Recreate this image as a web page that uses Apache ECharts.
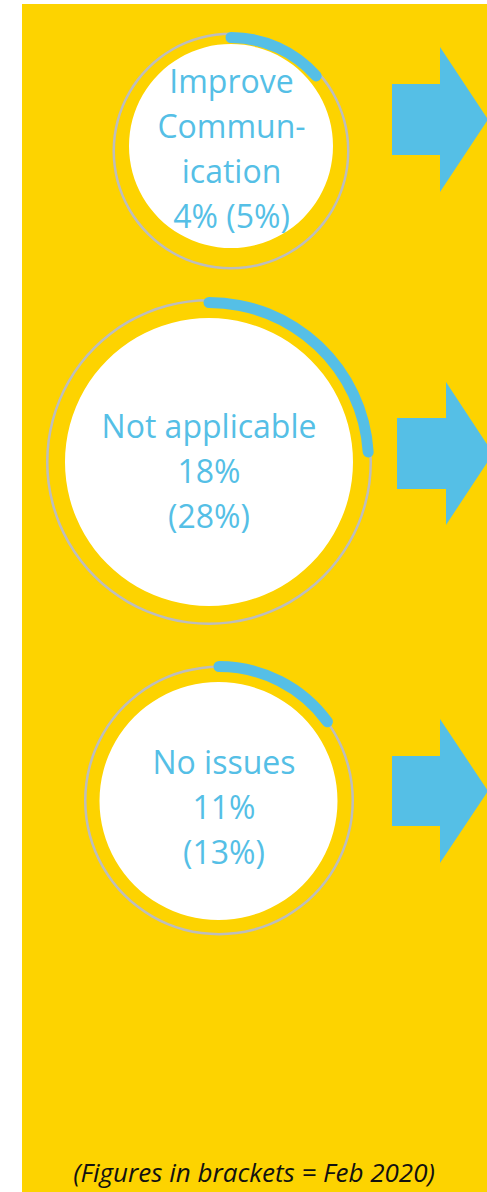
<!DOCTYPE html>
<html>
<head>
<meta charset="utf-8">
<style>
  html, body { margin: 0; padding: 0; background: #ffffff; }
  #main { width: 487px; height: 1192px; }
</style>
<script src="https://cdn.jsdelivr.net/npm/echarts@6/dist/echarts.min.js"></script>
</head>
<body>
<div id="main"></div>
<script>
// Reasons, current share and Feb 2020 share (in brackets)
const reasons = ['Improve\nCommun-\nication', 'Not applicable', 'No issues'];
const current = [4, 18, 11];
const feb2020 = [5, 28, 13];
// how much of each ring the blue arc covers, in percent
const arcShare = [13.5, 24, 15];
const footnote = '(Figures in brackets = Feb 2020)';

// layout of each circle (pixels)
const layout = [
    { cx: 231, cy: 151, ring: 118, arc: 119, disk: [231, 146, 102], text: [0.5, -3], sep: ' ' },
    { cx: 209, cy: 462, ring: 162.5, arc: 165, disk: [209, 462, 144], text: [0, 8], sep: '\n' },
    { cx: 219, cy: 800.5, ring: 134.5, arc: 139.5, disk: [218.5, 801, 119], text: [5, 6], sep: '\n' }
];
const arrows = [
    { x0: 392, x1: 440, tip: 488, cy: 119.5, body: 35.5, head: 72.5 },
    { x0: 397, x1: 446, tip: 493, cy: 453.5, body: 35.5, head: 71.5 },
    { x0: 392, x1: 440, tip: 488, cy: 791, body: 35, head: 72 }
];

const YELLOW = '#FDD300';
const BLUE = '#55BFE6';
const GREY = '#BDBDBD';

var myChart = echarts.init(document.getElementById('main'), null, { renderer: 'svg' });

var series = [];
reasons.forEach(function (name, i) {
    var l = layout[i];
    // white disk
    series.push({
        type: 'pie',
        silent: true,
        z: 1,
        center: [l.disk[0], l.disk[1]],
        radius: [0, l.disk[2]],
        label: { show: false },
        labelLine: { show: false },
        itemStyle: { color: '#ffffff' },
        data: [{ value: 1, name: name }]
    });
    // thin grey ring
    series.push({
        type: 'gauge',
        silent: true,
        z: 3,
        center: [l.cx, l.cy],
        radius: l.ring + 0.5,
        startAngle: 90,
        endAngle: -270,
        axisLine: { lineStyle: { width: 2.5, color: [[1, GREY]] } },
        pointer: { show: false },
        axisTick: { show: false },
        splitLine: { show: false },
        axisLabel: { show: false },
        title: { show: false },
        detail: { show: false },
        data: [{ value: 0 }]
    });
    // blue arc + label
    series.push({
        type: 'gauge',
        silent: true,
        z: 5,
        center: [l.cx, l.cy],
        radius: l.arc,
        startAngle: 90,
        endAngle: -270,
        min: 0,
        max: 100,
        axisLine: { lineStyle: { width: 11, color: [[1, 'rgba(0,0,0,0)']] } },
        progress: { show: true, width: 11, roundCap: true, itemStyle: { color: BLUE } },
        pointer: { show: false },
        axisTick: { show: false },
        splitLine: { show: false },
        axisLabel: { show: false },
        title: { show: false },
        detail: {
            show: true,
            valueAnimation: false,
            offsetCenter: l.text,
            color: BLUE,
            fontFamily: 'Open Sans',
            fontSize: 32,
            lineHeight: 45,
            fontWeight: 'normal',
            formatter: function () {
                return name + '\n' + current[i] + '%' + l.sep + '(' + feb2020[i] + '%)';
            }
        },
        data: [{ value: arcShare[i] }]
    });
});

var graphics = [
    { type: 'rect', z: -10, shape: { x: 22, y: 4, width: 465, height: 1188 }, style: { fill: YELLOW } }
];
arrows.forEach(function (a) {
    graphics.push({
        type: 'polygon',
        z: -5,
        shape: {
            points: [
                [a.x0, a.cy - a.body], [a.x1, a.cy - a.body], [a.x1, a.cy - a.head],
                [a.tip, a.cy], [a.x1, a.cy + a.head], [a.x1, a.cy + a.body], [a.x0, a.cy + a.body]
            ]
        },
        style: { fill: BLUE }
    });
});
graphics.push({
    type: 'text',
    x: 254,
    y: 1185,
    style: {
        text: footnote,
        fill: '#111111',
        font: 'italic 26px "Open Sans"',
        textAlign: 'center',
        textVerticalAlign: 'bottom'
    }
});

var option = {
    animation: false,
    backgroundColor: '#ffffff',
    graphic: graphics,
    series: series
};

myChart.setOption(option);
</script>
</body>
</html>
